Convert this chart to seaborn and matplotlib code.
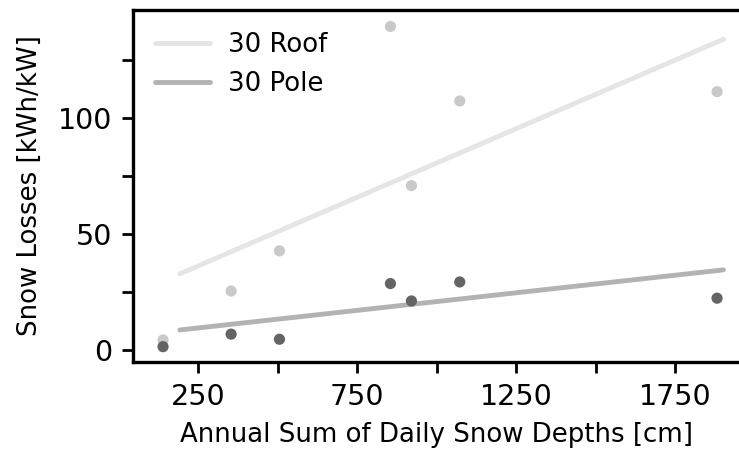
import numpy as np
import pandas as pd
import matplotlib
matplotlib.use("Agg")
import matplotlib.pyplot as plt
import seaborn as sns

# Annual sum of daily snow depths per season [cm]
snow_depth = [140, 354, 506, 855, 921, 1073, 1882]
# Snow losses per system [kWh/kW]
roof_losses = [4.3, 25.4, 42.7, 139.4, 70.8, 107.3, 111.3]
pole_losses = [1.4, 6.8, 4.6, 28.6, 21.1, 29.3, 22.3]

# Linear fits (x range, y at each end)
fit_x = [193, 1902]
roof_fit = [32.8, 133.9]
pole_fit = [8.6, 34.5]

labels = ["30 Roof", "30 Pole"]
point_colors = ["#c9c9c9", "#646464"]
line_colors = ["#e5e5e5", "#b3b3b3"]

sns.set_style("ticks")
plt.rcParams["font.family"] = ["DejaVu Sans"]
plt.rcParams["text.color"] = "black"
plt.rcParams["axes.labelcolor"] = "black"

fig = plt.figure(figsize=(7.39, 4.49), dpi=100)
ax = fig.add_axes([0.18, 0.1938, 0.82, 0.7839])

for lbl, ys, fit, pc, lc in zip(labels, [roof_losses, pole_losses],
                                [roof_fit, pole_fit], point_colors, line_colors):
    sns.lineplot(x=fit_x, y=fit, ax=ax, color=lc, lw=3.5, label=lbl)
    sns.scatterplot(x=snow_depth, y=ys, ax=ax, color=pc, s=65,
                    edgecolor="none", zorder=3)

ax.set_xlim(45.6, 1951)
ax.set_ylim(-5.2, 146.5)

xt = [250, 500, 750, 1000, 1250, 1500, 1750]
ax.set_xticks(xt)
ax.set_xticklabels([str(v) if v % 500 == 250 else "" for v in xt])
yt = [0, 25, 50, 75, 100, 125]
ax.set_yticks(yt)
ax.set_yticklabels([str(v) if v % 50 == 0 else "" for v in yt])

ax.tick_params(axis="both", labelsize=20.5, length=8, width=2,
               colors="black", pad=7)
for side in ["left", "bottom", "top"]:
    ax.spines[side].set_linewidth(2.4)
    ax.spines[side].set_color("black")
ax.spines["right"].set_visible(False)

ax.set_xlabel("Annual Sum of Daily Snow Depths [cm]", fontsize=18.7, labelpad=8)
ax.set_ylabel("Snow Losses [kWh/kW]", fontsize=18.7, labelpad=11)

leg = ax.legend(loc="upper left", frameon=False, fontsize=18.7,
                handlelength=2.1, handletextpad=0.7, borderaxespad=0.45)

fig.savefig("out.png", dpi=100)
